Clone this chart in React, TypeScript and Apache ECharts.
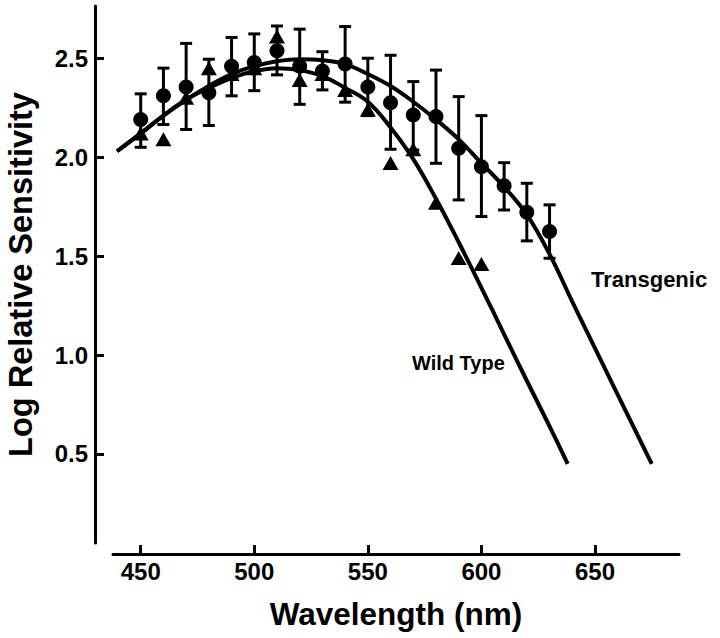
import React, { useEffect, useRef } from "react";
import * as echarts from "echarts";

// Axis ticks
const xTicks = [450, 500, 550, 600, 650];
const yTicks = [0.5, 1.0, 1.5, 2.0, 2.5];

// Transgenic measurements (circles, mean with error bars)
const tgWavelengths = [450, 460, 470, 480, 490, 500, 510, 520, 530, 540, 550, 560, 570, 580, 590, 600, 610, 620, 630];
const tgMean = [2.19, 2.31, 2.355, 2.325, 2.46, 2.478, 2.538, 2.46, 2.436, 2.471, 2.355, 2.275, 2.213, 2.205, 2.045, 1.952, 1.855, 1.722, 1.624];
const tgHigh = [2.32, 2.45, 2.575, 2.495, 2.605, 2.623, 2.663, 2.647, 2.533, 2.66, 2.5, 2.515, 2.382, 2.44, 2.306, 2.21, 1.972, 1.868, 1.759];
const tgLow = [2.05, 2.165, 2.14, 2.16, 2.31, 2.336, 2.416, 2.267, 2.34, 2.278, 2.21, 2.04, 2.036, 1.969, 1.784, 1.7, 1.733, 1.577, 1.489];

// Wild type measurements (triangles)
const wtWavelengths = [450, 460, 470, 480, 490, 500, 510, 520, 530, 540, 550, 560, 570, 580, 590, 600];
const wtValues = [2.12, 2.09, 2.3, 2.45, 2.42, 2.45, 2.61, 2.39, 2.42, 2.34, 2.24, 1.97, 2.04, 1.77, 1.49, 1.46];

// Fitted template curves
const tgCurveX = [439.6, 450, 460, 470, 480, 490, 500, 510, 520, 530, 540, 550, 560, 570, 580, 590, 600, 610, 620, 630, 640, 650, 660, 675];
const tgCurveY = [2.03, 2.12, 2.21, 2.29, 2.36, 2.42, 2.46, 2.485, 2.495, 2.49, 2.47, 2.42, 2.36, 2.28, 2.19, 2.09, 1.97, 1.85, 1.71, 1.51, 1.27, 1.035, 0.8, 0.45];
const wtCurveX = [439.6, 450, 460, 470, 480, 490, 500, 510, 520, 530, 540, 550, 560, 570, 580, 590, 600, 610, 620, 630, 638];
const wtCurveY = [2.03, 2.12, 2.21, 2.29, 2.35, 2.4, 2.435, 2.45, 2.44, 2.41, 2.35, 2.28, 2.15, 1.99, 1.79, 1.57, 1.34, 1.105, 0.87, 0.64, 0.45];

const FONT = "'Liberation Sans', Arial, Helvetica, sans-serif";

export default function App() {
  const ref = useRef<HTMLDivElement>(null);

  useEffect(() => {
    if (!ref.current) return;
    const chart = echarts.init(ref.current, null, { renderer: "svg" });

    const tgPts = tgWavelengths.map((x, i) => [x, tgMean[i]]);
    const tgErr = tgWavelengths.map((x, i) => [x, tgLow[i], tgHigh[i]]);
    const wtPts = wtWavelengths.map((x, i) => [x, wtValues[i]]);
    const tgCurve = tgCurveX.map((x, i) => [x, tgCurveY[i]]);
    const wtCurve = wtCurveX.map((x, i) => [x, wtCurveY[i]]);

    chart.setOption({
      animation: false,
      backgroundColor: "#ffffff",
      grid: { left: 113, right: 41, top: 6, bottom: 95, containLabel: false, outerBoundsMode: "none" },
      xAxis: {
        type: "value",
        min: 437.8,
        max: 687,
        offset: 11,
        name: "Wavelength (nm)",
        nameLocation: "middle",
        nameGap: 44,
        nameTextStyle: { fontFamily: FONT, fontWeight: "bold", fontSize: 31.5, color: "#000" },
        axisLine: { show: true, lineStyle: { color: "#000", width: 3 } },
        axisTick: { show: true, inside: true, length: 9, lineStyle: { color: "#000", width: 3 }, customValues: xTicks },
        axisLabel: { customValues: xTicks, fontFamily: FONT, fontWeight: "bold", fontSize: 24, color: "#000", margin: 5 },
        splitLine: { show: false },
      },
      yAxis: {
        type: "value",
        min: 0.05,
        max: 2.764,
        offset: 18,
        name: "Log Relative Sensitivity",
        nameLocation: "middle",
        nameGap: 58,
        nameTextStyle: { fontFamily: FONT, fontWeight: "bold", fontSize: 32.5, color: "#000" },
        axisLine: { show: true, lineStyle: { color: "#000", width: 3 } },
        axisTick: { show: true, inside: true, length: 9, lineStyle: { color: "#000", width: 3 }, customValues: yTicks },
        axisLabel: {
          customValues: yTicks,
          formatter: (v: number) => v.toFixed(1),
          fontFamily: FONT,
          fontWeight: "bold",
          fontSize: 24,
          color: "#000",
          margin: 7,
        },
        splitLine: { show: false },
      },
      graphic: [
        {
          type: "text",
          left: 591,
          top: 268,
          style: { text: "Transgenic", font: `bold 22px ${FONT}`, fill: "#000" },
        },
        {
          type: "text",
          left: 412,
          top: 353,
          style: { text: "Wild Type", font: `bold 20px ${FONT}`, fill: "#000" },
        },
      ],
      series: [
        {
          type: "line",
          data: tgCurve,
          smooth: 0.4,
          symbol: "none",
          lineStyle: { color: "#000", width: 4 },
          z: 2,
        },
        {
          type: "line",
          data: wtCurve,
          smooth: 0.4,
          symbol: "none",
          lineStyle: { color: "#000", width: 4 },
          z: 2,
        },
        {
          type: "custom",
          data: tgErr,
          z: 3,
          renderItem: (params: any, api: any) => {
            const x = api.value(0);
            const lo = api.coord([x, api.value(1)]);
            const hi = api.coord([x, api.value(2)]);
            const hw = 6;
            const style = { stroke: "#000", lineWidth: 3 };
            return {
              type: "group",
              children: [
                { type: "line", shape: { x1: lo[0], y1: lo[1], x2: hi[0], y2: hi[1] }, style },
                { type: "line", shape: { x1: hi[0] - hw, y1: hi[1], x2: hi[0] + hw, y2: hi[1] }, style },
                { type: "line", shape: { x1: lo[0] - hw, y1: lo[1], x2: lo[0] + hw, y2: lo[1] }, style },
              ],
            };
          },
        },
        {
          type: "scatter",
          data: wtPts,
          symbol: "triangle",
          symbolSize: [16, 14],
          itemStyle: { color: "#000", opacity: 1 },
          z: 4,
        },
        {
          type: "scatter",
          data: tgPts,
          symbol: "circle",
          symbolSize: 15,
          itemStyle: { color: "#000", opacity: 1 },
          z: 5,
        },
      ],
    });

    return () => chart.dispose();
  }, []);

  return (
    <div
      ref={ref}
      style={{ position: "fixed", left: 0, top: 0, width: 720, height: 638, background: "#fff" }}
    />
  );
}
